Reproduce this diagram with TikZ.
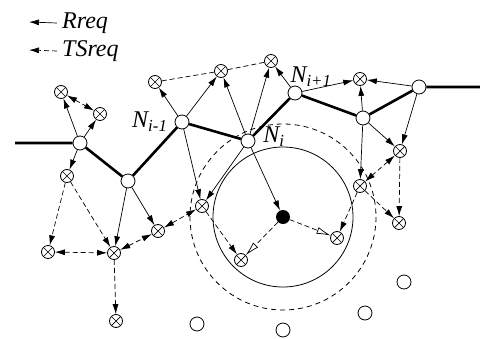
\documentclass[tikz,border=0pt]{standalone}
\usepackage{fontspec}
\setmainfont{Liberation Serif}
\newfontfamily\lblfont{Liberation Serif}
\usetikzlibrary{arrows.meta,positioning}

\begin{document}
\begin{tikzpicture}[
    x=1pt, y=-1pt,
    >={Latex[length=10pt,width=6pt]},
    router/.style={draw, circle, fill=white, line width=0.8pt, minimum size=14pt, inner sep=0pt},
    relay/.style={draw, circle, fill=white, line width=0.8pt, minimum size=13pt, inner sep=0pt,
        path picture={\draw[line width=0.7pt] (path picture bounding box.north west) -- (path picture bounding box.south east)
        (path picture bounding box.north east) -- (path picture bounding box.south west);}},
    sink/.style={circle, fill=black, minimum size=14pt, inner sep=0pt},
    backbone/.style={line width=2.6pt},
    rq/.style={->, line width=0.7pt},
    ts/.style={->, line width=0.7pt, dash pattern=on 5pt off 3pt},
    tsb/.style={<->, line width=0.7pt, dash pattern=on 5pt off 3pt},
    tsl/.style={line width=0.7pt, dash pattern=on 5pt off 3pt},
    tso/.style={-{Latex[open,length=14pt,width=7pt]}, line width=0.7pt, dash pattern=on 5pt off 3pt},
    lbl/.style={font=\lblfont\fontsize{24}{28}\selectfont\itshape, inner sep=0pt}
]
\useasboundingbox (0,0) rectangle (480,338);

\coordinate (ctr) at (283,217);
\draw[line width=0.8pt] (ctr) circle[radius=70];
\draw[line width=0.8pt, dash pattern=on 5pt off 4pt] (ctr) circle[radius=93];

\node[lbl, anchor=west] (rreq) at (62,23) {Rreq};
\node[lbl, anchor=west] (tsreq) at (62,51) {TSreq};
\coordinate (rtip) at (29,22);
\coordinate (ttip) at (29,50);

\coordinate (lend) at (15,143);
\coordinate (rend) at (480,87);
\node[router] (ra) at (80,143) {};
\node[router] (rb) at (128,181) {};
\node[router] (nprev) at (182,122) {};
\node[router] (ncur) at (248,141) {};
\node[router] (nnext) at (295,93) {};
\node[router] (rf) at (363,118) {};
\node[router] (rg) at (419,87) {};

\node[relay] (m1) at (61,92) {};
\node[relay] (m2) at (100,114) {};
\node[relay] (m3) at (67,176) {};
\node[relay] (m4) at (48,252) {};
\node[relay] (m5) at (114,253) {};
\node[relay] (m6) at (158,231) {};
\node[relay] (m7) at (116,321) {};
\node[relay] (m8) at (202,206) {};
\node[relay] (m9) at (155,82) {};
\node[relay] (m10) at (221,71) {};
\node[relay] (m11) at (271,61) {};
\node[relay] (m12) at (241,260) {};
\node[relay] (m13) at (360,79) {};
\node[relay] (m14) at (400,151) {};
\node[relay] (m15) at (360,186) {};
\node[relay] (m16) at (399,223) {};
\node[relay] (m17) at (337,238) {};

\node[router] (o1) at (197,324) {};
\node[router] (o2) at (283,330) {};
\node[router] (o3) at (365,313) {};
\node[router] (o4) at (404,282) {};

\node[sink] (bs) at (ctr) {};

\node[lbl, left=7pt of nprev] {N\textsubscript{i-1}};
\node[lbl] at (274,137) {N\textsubscript{i}};
\node[lbl] at (311,77) {N\textsubscript{i+1}};

\draw[rq] ([xshift=-5pt]rreq.west) -- (rtip);
\draw[ts] ([xshift=-5pt]tsreq.west) -- (ttip);

\draw[backbone] (lend) -- (ra) -- (rb) -- (nprev) -- (ncur) -- (nnext) -- (rf) -- (rg) -- (rend);

\draw[rq] (ra) -- (m1);
\draw[rq] (ra) -- (m2);
\draw[rq] (ra) -- (m3);
\draw[rq] (rb) -- (m5);
\draw[rq] (rb) -- (m6);
\draw[rq] (nprev) -- (m9);
\draw[rq] (nprev) -- (m10);
\draw[rq] (nprev) -- (m8);
\draw[rq] (ncur) -- (m10);
\draw[rq] (ncur) -- (m11);
\draw[rq] (ncur) -- (m8);
\draw[rq] (ncur) -- (bs);
\draw[rq] (nnext) -- (m11);
\draw[rq] (nnext) -- (m13);
\draw[rq] (rf) -- (m13);
\draw[rq] (rf) -- (m14);
\draw[rq] (rf) -- (m15);
\draw[rq] (rg) -- (m13);
\draw[rq] (rg) -- (m14);

\draw[tsb] (m1) -- (m2);
\draw[ts] (m3) -- (m4);
\draw[ts] (m3) -- (m5);
\draw[tsb] (m4) -- (m5);
\draw[tsb] (m5) -- (m6);
\draw[ts] (m5) -- (m7);
\draw[tsb] (m6) -- (m8);
\draw[ts] (m8) -- (m12);
\draw[tsl] (m9) -- (m10) -- (m11);
\draw[tsb] (m14) -- (m15);
\draw[ts] (m14) -- (m16);
\draw[ts] (m15) -- (m16);
\draw[ts] (m15) -- (m17);
\draw[tso] (bs) -- (m17);
\draw[tso] (bs) -- (m12);
\end{tikzpicture}
\end{document}
